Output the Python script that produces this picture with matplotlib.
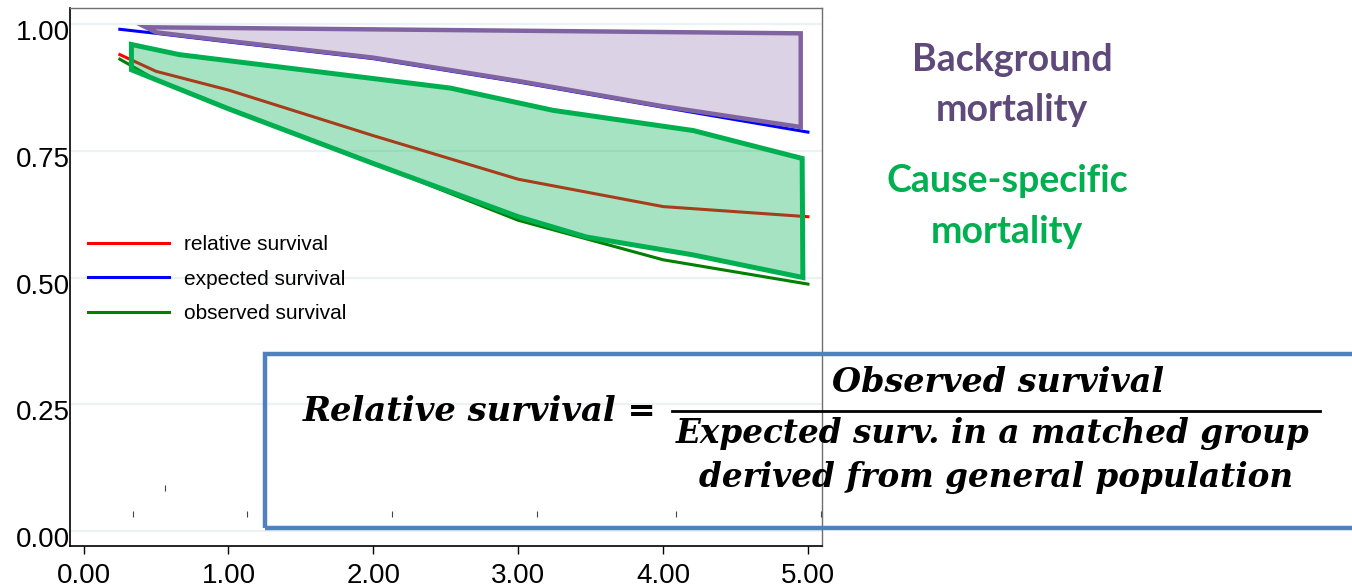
import matplotlib.pyplot as plt
import matplotlib.transforms as mtransforms
from matplotlib.patches import Polygon, Rectangle
from matplotlib.lines import Line2D

# survival curves (years since diagnosis)
years = [0.25, 0.5, 1, 2, 3, 4, 5]
relative = [0.940, 0.907, 0.870, 0.780, 0.694, 0.640, 0.620]
expected = [0.990, 0.982, 0.965, 0.932, 0.886, 0.836, 0.787]
observed = [0.931, 0.890, 0.834, 0.726, 0.613, 0.535, 0.487]

# censoring marks near the bottom
rug_x = [0.34, 0.56, 1.13, 2.13, 3.13, 4.09, 5.09]
rug_y = [0.034, 0.085, 0.034, 0.034, 0.034, 0.034, 0.034]

# shaded areas drawn over the curves
bg_x = [0.43, 4.95, 4.95, 4.0, 3.0, 2.0, 1.0, 0.50]
bg_y = [0.994, 0.982, 0.797, 0.838, 0.888, 0.934, 0.967, 0.984]
cs_x = [0.33, 0.66, 2.53, 3.24, 4.21, 4.96, 4.965, 4.2, 3.47, 3.0, 2.0, 1.0, 0.33]
cs_y = [0.960, 0.940, 0.874, 0.830, 0.790, 0.735, 0.500, 0.545, 0.580, 0.620, 0.725, 0.833, 0.910]

xticks = [0, 1, 2, 3, 4, 5]
xlabels = ['0.00', '1.00', '2.00', '3.00', '4.00', '5.00']
yticks = [0, 0.25, 0.5, 0.75, 1.0]
ylabels = ['0.00', '0.25', '0.50', '0.75', '1.00']

plt.rcParams['font.family'] = ['Liberation Sans', 'DejaVu Sans']

W, H = 1352, 588
fig = plt.figure(figsize=(W / 100, H / 100), dpi=100)
ax = fig.add_axes([70 / W, 1 - 546 / H, (822 - 70) / W, (546 - 8) / H])

ax.set_xlim(-0.094, 5.097)
ax.set_ylim(-0.030, 1.032)

for y in yticks:
    ax.axhline(y, color='#eaf2f3', lw=1.6, zorder=0)

ax.plot(years, relative, color='#ff0000', lw=2.2, label='relative survival', zorder=2)
ax.plot(years, expected, color='#0000ff', lw=2.2, label='expected survival', zorder=2)
ax.plot(years, observed, color='#008000', lw=2.2, label='observed survival', zorder=2)
ax.plot(rug_x, rug_y, '|', color='#444444', ms=4, mew=0.8, zorder=2)

# Background mortality area
ax.add_patch(Polygon(list(zip(bg_x, bg_y)), closed=True, facecolor='#8064a2', alpha=0.28,
                     edgecolor='none', zorder=3))
ax.add_patch(Polygon(list(zip(bg_x, bg_y)), closed=True, facecolor='none',
                     edgecolor='#8064a2', lw=3.2, joinstyle='miter', zorder=4))
# Cause-specific mortality area
ax.add_patch(Polygon(list(zip(cs_x, cs_y)), closed=True, facecolor='#00b050', alpha=0.35,
                     edgecolor='none', zorder=3))
ax.add_patch(Polygon(list(zip(cs_x, cs_y)), closed=True, facecolor='none',
                     edgecolor='#00b050', lw=3.6, joinstyle='miter', zorder=4))

ax.set_xticks(xticks)
ax.set_xticklabels(xlabels)
ax.set_yticks(yticks)
ax.set_yticklabels(ylabels)
ax.tick_params(axis='x', labelsize=20, length=6, width=1, pad=6)
ax.tick_params(axis='y', labelsize=20, length=0, pad=0)
# y labels sit a little below their gridlines in the original
shift = mtransforms.ScaledTranslation(0, -6 / 100, fig.dpi_scale_trans)
for lab in ax.get_yticklabels():
    lab.set_transform(lab.get_transform() + shift)

for s in ['left', 'bottom']:
    ax.spines[s].set_color('black')
    ax.spines[s].set_linewidth(1.2)
for s in ['top', 'right']:
    ax.spines[s].set_color('#707070')
    ax.spines[s].set_linewidth(1.0)

leg = ax.legend(loc='upper left', bbox_to_anchor=(0.024, 0.578), frameon=False,
                fontsize=15, handlelength=3.9, handletextpad=0.7, labelspacing=0.75,
                borderpad=0, borderaxespad=0)
leg.set_zorder(6)

# annotations on the right
fig.text(1012 / W, 1 - 60 / H, 'Background', color='#5f497a', fontsize=27,
         fontweight='bold', family='Lato', ha='center', va='center')
fig.text(1012 / W, 1 - 110 / H, 'mortality', color='#5f497a', fontsize=27,
         fontweight='bold', family='Lato', ha='center', va='center')
fig.text(1007 / W, 1 - 181 / H, 'Cause-specific', color='#00b050', fontsize=27,
         fontweight='bold', family='Lato', ha='center', va='center')
fig.text(1007 / W, 1 - 232 / H, 'mortality', color='#00b050', fontsize=27,
         fontweight='bold', family='Lato', ha='center', va='center')

# formula box
fig.patches.append(Rectangle((265 / W, 1 - 528 / H), (1400 - 265) / W, (528 - 354) / H,
                             transform=fig.transFigure, facecolor='none',
                             edgecolor='#4f81bd', lw=3.2, zorder=7))
fkw = dict(family='DejaVu Serif', fontweight='bold', fontstyle='italic',
           color='black', va='baseline')
fig.text(303 / W, 1 - 421 / H, 'Relative survival =', ha='left', fontsize=24.3, **fkw)
fig.text(998 / W, 1 - 392 / H, 'Observed survival', ha='center', fontsize=24, **fkw)
fig.text(993 / W, 1 - 443 / H, 'Expected surv. in a matched group', ha='center', fontsize=23.5, **fkw)
fig.text(996 / W, 1 - 487 / H, 'derived from general population', ha='center', fontsize=23.5, **fkw)
fig.add_artist(Line2D([672 / W, 1320 / W], [1 - 411 / H, 1 - 411 / H],
                      transform=fig.transFigure, color='black', lw=2))

fig.savefig('out.png', dpi=100)
